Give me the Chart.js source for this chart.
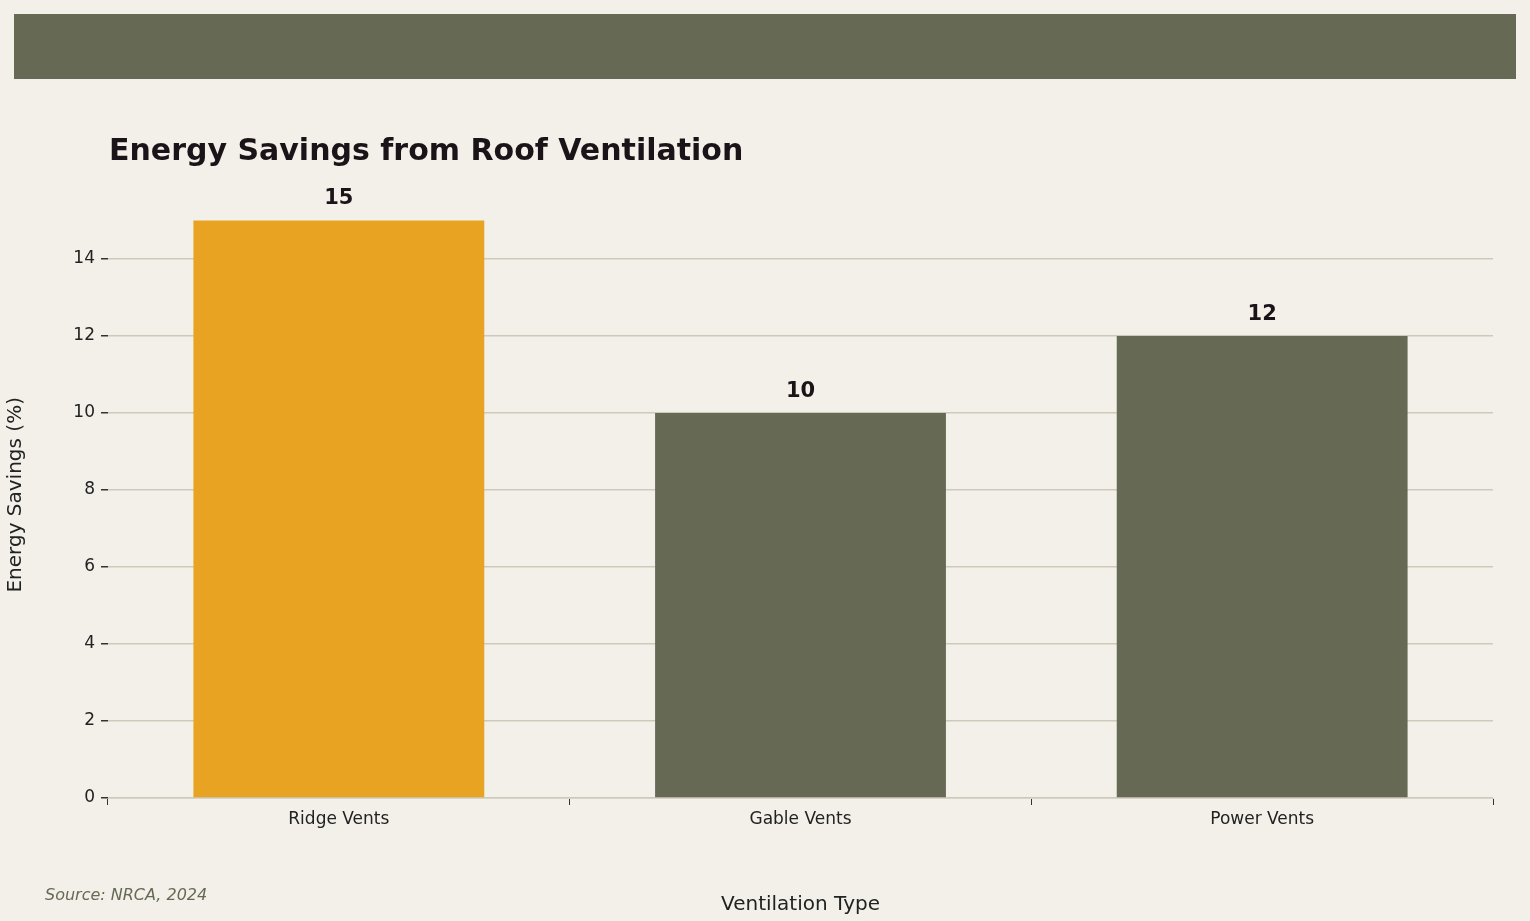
<!DOCTYPE html><html><head><meta charset="utf-8">
<script src="https://cdn.jsdelivr.net/npm/chart.js@4"></script>
<style>html,body{margin:0;padding:0;background:#f2f0e9}#w{width:1530px;height:921px;position:relative}</style></head>
<body><div id="w"><canvas id="c"></canvas></div>
<script>
const categories=["Ridge Vents","Gable Vents","Power Vents"];
const savings=[15,10,12];
const barColors=["#e8a323","#666a55","#666a55"];
const yTicks=[0,2,4,6,8,10,12,14];
const F="'DejaVu Sans', sans-serif";
const deco={id:'deco',
 beforeDraw(c){const x=c.ctx;x.save();x.fillStyle='#666a55';x.fillRect(14,14,1502,65);
  x.fillStyle='#1a1418';x.font="bold 30px "+F;x.textBaseline='middle';x.fillText('Energy Savings from Roof Ventilation',109,152);
  x.fillStyle='#666a55';x.font="italic 16px "+F;x.fillText('Source: NRCA, 2024',45,896);x.restore();},
 afterDatasetsDraw(c){const x=c.ctx;x.save();x.fillStyle='#1a1418';x.font="bold 21px "+F;x.textAlign='center';x.textBaseline='bottom';
  c.getDatasetMeta(0).data.forEach((b,i)=>x.fillText(savings[i],b.x,b.y-11));x.restore();}};
new Chart(document.getElementById('c'),{type:'bar',
 data:{labels:categories,datasets:[{data:savings,backgroundColor:barColors,barPercentage:0.63,categoryPercentage:1}]},
 options:{responsive:true,maintainAspectRatio:false,animation:false,
  layout:{padding:{top:191.6,right:37,left:0,bottom:0}},
  plugins:{legend:{display:false},tooltip:{enabled:false}},
  scales:{
   x:{grid:{color:'rgba(0,0,0,0)',drawOnChartArea:false,tickColor:'#333',tickLength:7},border:{color:'#d8d5c8'},
      ticks:{color:'#222',font:{family:F,size:17},padding:4},
      title:{display:true,text:'Ventilation Type',color:'#222',font:{family:F,size:20},padding:{top:6}},
      afterFit(s){s.height=123;}},
   y:{min:0,max:15.75,afterBuildTicks(s){s.ticks=yTicks.map(v=>({value:v}));},
      grid:{color:'#cdcabb',lineWidth:1.5,tickColor:'#333',tickLength:7},border:{display:false},
      ticks:{color:'#222',font:{family:F,size:17},padding:6},
      title:{display:true,text:'Energy Savings (%)',color:'#222',font:{family:F,size:20},padding:{bottom:10}},
      afterFit(s){s.width=108;}}}},
 plugins:[deco]});
</script></body></html>
